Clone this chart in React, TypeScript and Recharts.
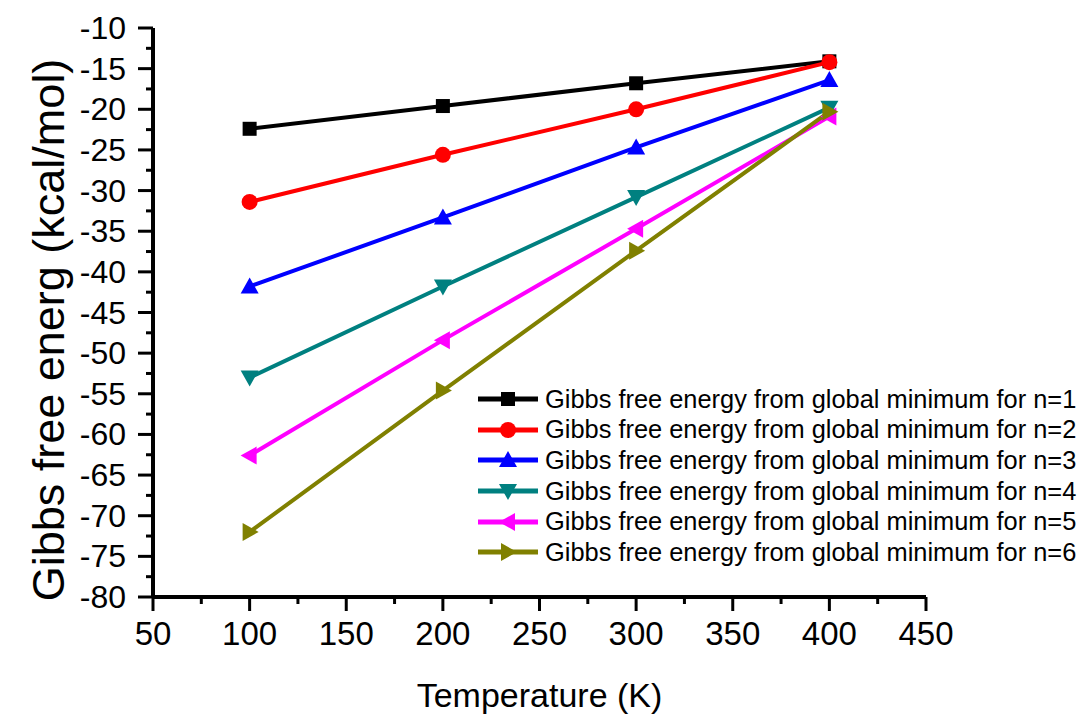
import React from 'react';
import { LineChart, Line, XAxis, YAxis, Legend, Label } from 'recharts';

const temperatures = [100, 200, 300, 400];
const n1 = [-22.4, -19.6, -16.8, -14.1];
const n2 = [-31.4, -25.6, -20.0, -14.2];
const n3 = [-41.8, -33.3, -24.7, -16.4];
const n4 = [-53.0, -41.8, -30.8, -19.8];
const n5 = [-62.6, -48.4, -34.7, -20.9];
const n6 = [-72.0, -54.6, -37.4, -20.3];

const xTicks = [50, 75, 100, 125, 150, 175, 200, 225, 250, 275, 300, 325, 350, 375, 400, 425, 450];
const yTicks = [-80, -77.5, -75, -72.5, -70, -67.5, -65, -62.5, -60, -57.5, -55, -52.5, -50, -47.5, -45, -42.5, -40, -37.5, -35, -32.5, -30, -27.5, -25, -22.5, -20, -17.5, -15, -12.5, -10];

const series = [
    { key: 'n1', name: 'Gibbs free energy from global minimum for n=1', color: '#000000', shape: 'square' },
    { key: 'n2', name: 'Gibbs free energy from global minimum for n=2', color: '#ff0000', shape: 'circle' },
    { key: 'n3', name: 'Gibbs free energy from global minimum for n=3', color: '#0000ff', shape: 'up' },
    { key: 'n4', name: 'Gibbs free energy from global minimum for n=4', color: '#008080', shape: 'down' },
    { key: 'n5', name: 'Gibbs free energy from global minimum for n=5', color: '#ff00ff', shape: 'left' },
    { key: 'n6', name: 'Gibbs free energy from global minimum for n=6', color: '#808000', shape: 'right' },
];

const data = temperatures.map((t, i) => ({
    t,
    n1: n1[i],
    n2: n2[i],
    n3: n3[i],
    n4: n4[i],
    n5: n5[i],
    n6: n6[i],
}));

const FONT = '"Liberation Sans", Arial, Helvetica, sans-serif';

// marker glyphs, Origin style
const Marker = ({ shape, cx, cy, color }: { shape: string; cx: number; cy: number; color: string }) => {
    if (shape === 'square') return <rect x={cx - 7} y={cy - 7} width={14} height={14} fill={color} />;
    if (shape === 'circle') return <circle cx={cx} cy={cy} r={8} fill={color} />;
    let pts = '';
    if (shape === 'up') pts = `${cx},${cy - 9} ${cx + 9},${cy + 7} ${cx - 9},${cy + 7}`;
    if (shape === 'down') pts = `${cx},${cy + 9} ${cx + 9},${cy - 7} ${cx - 9},${cy - 7}`;
    if (shape === 'left') pts = `${cx - 9},${cy} ${cx + 7},${cy - 9} ${cx + 7},${cy + 9}`;
    if (shape === 'right') pts = `${cx + 9},${cy} ${cx - 7},${cy - 9} ${cx - 7},${cy + 9}`;
    return <polygon points={pts} fill={color} />;
};

const XTick = (props: any) => {
    const { x, y, payload } = props;
    const major = payload.value % 50 === 0;
    return (
        <g>
            <line x1={x} y1={y} x2={x} y2={y + (major ? 14 : 7)} stroke="#000" strokeWidth={3} />
            {major && (
                <text x={x} y={y + 48} textAnchor="middle" fontSize={33} fontFamily={FONT} fill="#000">
                    {payload.value}
                </text>
            )}
        </g>
    );
};

const YTick = (props: any) => {
    const { x, y, payload } = props;
    const major = payload.value % 5 === 0;
    return (
        <g>
            <line x1={x - (major ? 15 : 7)} y1={y} x2={x} y2={y} stroke="#000" strokeWidth={3} />
            {major && (
                <text x={x - 27} y={y + 11} textAnchor="end" fontSize={32} fontFamily={FONT} fill="#000">
                    {payload.value}
                </text>
            )}
        </g>
    );
};

const YTitle = (props: any) => {
    const { viewBox } = props;
    const cx = viewBox.x + 48;
    const cy = 330;
    return (
        <text
            x={cx}
            y={cy}
            transform={`rotate(-90 ${cx} ${cy})`}
            textAnchor="middle"
            dominantBaseline="central"
            fontSize={45}
            fontFamily={FONT}
            fill="#000"
        >
            Gibbs free energ (kcal/mol)
        </text>
    );
};

const XTitle = (props: any) => {
    const { viewBox } = props;
    return (
        <text
            x={viewBox.x + viewBox.width / 2}
            y={viewBox.y + 110}
            textAnchor="middle"
            fontSize={34}
            fontFamily={FONT}
            fill="#000"
        >
            Temperature (K)
        </text>
    );
};

const LegendBox = () => (
    <div style={{ fontFamily: FONT, fontSize: 25.4, color: '#000' }}>
        {series.map((s) => (
            <div key={s.key} style={{ display: 'flex', alignItems: 'center', height: 30.6, whiteSpace: 'nowrap' }}>
                <svg width={64} height={22} style={{ marginRight: 3 }}>
                    <line x1={0} y1={11} x2={60} y2={11} stroke={s.color} strokeWidth={5} />
                    <Marker shape={s.shape} cx={30} cy={11} color={s.color} />
                </svg>
                <span>{s.name}</span>
            </div>
        ))}
    </div>
);

export default function App() {
    return (
        <div style={{ position: 'absolute', left: 0, top: 0, width: 1082, height: 719, background: '#fff' }}>
            <LineChart width={1082} height={719} data={data} margin={{ top: 28, right: 156, bottom: 0, left: 0 }}>
                <XAxis
                    dataKey="t"
                    type="number"
                    domain={[50, 450]}
                    ticks={xTicks}
                    interval={0}
                    height={122}
                    tickSize={0}
                    tickMargin={0}
                    tickLine={false}
                    tick={<XTick />}
                    axisLine={{ stroke: '#000', strokeWidth: 4 }}
                >
                    <Label content={<XTitle />} />
                </XAxis>
                <YAxis
                    type="number"
                    domain={[-80, -10]}
                    ticks={yTicks}
                    interval={0}
                    width={153}
                    tickSize={0}
                    tickMargin={0}
                    tickLine={false}
                    tick={<YTick />}
                    axisLine={{ stroke: '#000', strokeWidth: 4 }}
                    allowDataOverflow
                >
                    <Label content={<YTitle />} />
                </YAxis>
                <Legend
                    layout="vertical"
                    align="center"
                    verticalAlign="middle"
                    content={<LegendBox />}
                    wrapperStyle={{ position: 'absolute', left: 478, top: 384, width: 'auto', height: 'auto' }}
                />
                {series.map((s) => (
                    <Line
                        key={s.key}
                        dataKey={s.key}
                        name={s.name}
                        stroke={s.color}
                        strokeWidth={4}
                        isAnimationActive={false}
                        dot={(p: any) => <Marker key={`${s.key}-${p.index}`} shape={s.shape} cx={p.cx} cy={p.cy} color={s.color} />}
                        activeDot={false}
                    />
                ))}
            </LineChart>
        </div>
    );
}
